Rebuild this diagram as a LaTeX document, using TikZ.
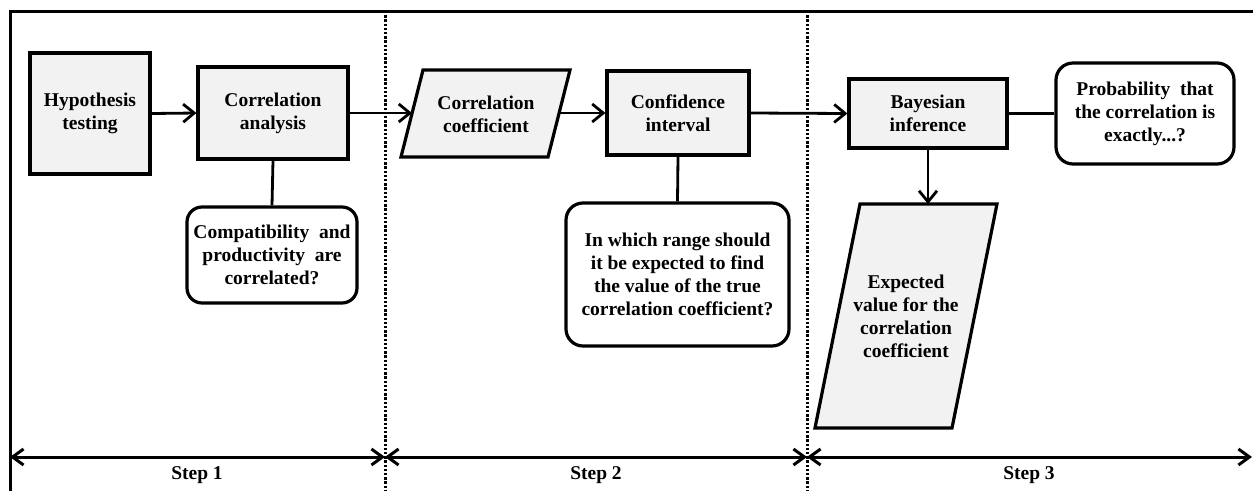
\documentclass[tikz,border=0pt]{standalone}
\usepackage{fontspec}
\setmainfont{Liberation Serif}
\usetikzlibrary{arrows.meta}
\definecolor{boxfill}{HTML}{F2F2F2}
\tikzset{
  base/.style={draw=black, line width=3.2pt, align=center, inner sep=0pt,
    font=\bfseries\fontsize{19.5}{23}\selectfont},
  procbox/.style={base, fill=boxfill, rectangle},
  roundbox/.style={base, fill=white, rectangle, rounded corners=17pt},
  txt/.style={align=center, inner sep=0pt, font=\bfseries\fontsize{19.5}{23}\selectfont},
  para/.style={draw=black, line width=3.2pt, fill=boxfill, line join=miter},
  conn/.style={draw=black, line width=2.8pt},
  arr/.style={conn, -{Straight Barb[length=11pt,width=18pt]}},
  steparr/.style={draw=black, line width=3pt, {Straight Barb[length=11pt,width=16pt]}-{Straight Barb[length=11pt,width=16pt]}},
  divider/.style={draw=black, line width=3pt, dash pattern=on 2.4pt off 1.8pt},
  frameline/.style={draw=black, line width=3pt}
}
\begin{document}
\begin{tikzpicture}[x=1pt, y=-1pt]
\useasboundingbox (0,0) rectangle (1253,491);
% frame
\draw[frameline] (10,491) -- (10,11) -- (1253,11);
% dividers
\draw[divider] (385,11) -- (385,491);
\draw[divider] (807,11) -- (807,491);

% step 1
\node[procbox, minimum width=120pt, minimum height=121pt] (ht) at (90,113.5) {Hypothesis\\testing};
\node[procbox, minimum width=150pt, minimum height=92pt] (ca) at (273,113) {Correlation\\analysis};
\node[roundbox, rounded corners=15pt, minimum width=170pt, minimum height=96pt] (cp) at (272,255)
  {Compatibility\ \ and\\productivity\ \ are\\correlated?};

% step 2
\draw[para] (401,157) -- (548,157) -- (570,70) -- (423,70) -- cycle;
\node[txt] (cc) at (486,114) {Correlation\\coefficient};
\coordinate (ccin) at (412,113);
\coordinate (ccout) at (559,113);
\node[procbox, minimum width=142pt, minimum height=84pt] (ci) at (678,113) {Confidence\\interval};
\node[roundbox, minimum width=223pt, minimum height=143pt] (q) at (677.5,274.5)
  {In which range should\\it be expected to find\\the value of the true\\correlation coefficient?};

% step 3
\node[procbox, minimum width=158pt, minimum height=69pt] (bi) at (928,113.5) {Bayesian\\inference};
\node[roundbox, minimum width=178pt, minimum height=101pt] (pr) at (1145,113.5)
  {Probability\ \ that\\the correlation is\\exactly...?};
\draw[para] (815,428) -- (952,428) -- (997,204) -- (860,204) -- cycle;
\node[txt] (ev) at (906,316) {Expected\\value for the\\correlation\\coefficient};
\coordinate (evin) at (928,204);

% connectors
\draw[arr] (ht.east) -- (ca.west);
\draw[arr] (ca.east) -- (ccin);
\draw[conn] (ca.south) -- (cp.north);
\draw[arr] (ccout) -- (ci.west);
\draw[conn] (ci.south) -- (q.north);
\draw[arr] (ci.east) -- (bi.west);
\draw[conn] (bi.east) -- (pr.west);
\draw[arr] (bi.south) -- (evin);

% steps
\coordinate (s0) at (10,457);
\coordinate (s1) at (385,457);
\coordinate (s2) at (807,457);
\coordinate (s3) at (1252,457);
\draw[steparr] (s0) -- (s1);
\draw[steparr] (s1) -- (s2);
\draw[steparr] (s2) -- (s3);
\node[txt] (l1) at (197,475) {Step 1};
\node[txt] (l2) at (596,475) {Step 2};
\node[txt] (l3) at (1029,475) {Step 3};
\end{tikzpicture}
\end{document}
